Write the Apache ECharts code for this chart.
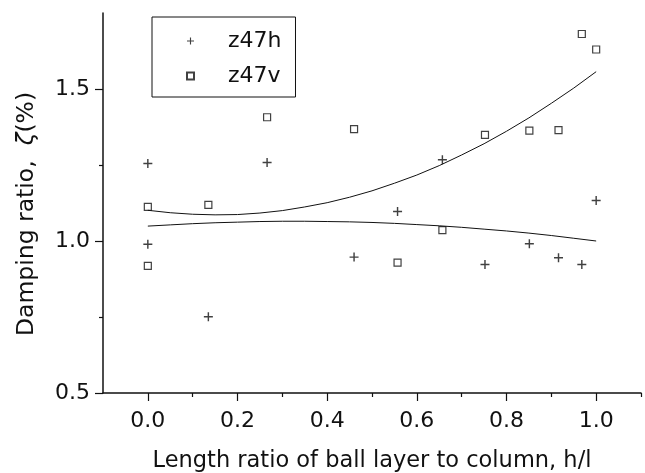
<!DOCTYPE html>
<html>
<head>
<meta charset="utf-8">
<script src="https://cdn.jsdelivr.net/npm/echarts@6/dist/echarts.min.js"></script>
<style>
  html, body { margin: 0; padding: 0; background: #fff; }
  #chart { width: 645px; height: 473px; }
</style>
</head>
<body>
<div id="chart"></div>
<script>
// h/l values of the measured points (x = 0 appears twice)
const ratioX = [0, 0, 0.135, 0.266, 0.46, 0.557, 0.657, 0.752, 0.851, 0.916, 0.968, 1.0]
const z47h = [1.255, 0.989, 0.751, 1.258, 0.947, 1.097, 1.267, 0.923, 0.991, 0.945, 0.923, 1.133]
const z47v = [1.112, 0.918, 1.119, 1.407, 1.368, 0.929, 1.036, 1.349, 1.363, 1.365, 1.681, 1.630]

// fitted curves
const fitX = [0, 0.05, 0.1, 0.15, 0.2, 0.25, 0.3, 0.35, 0.4, 0.45, 0.5,
  0.55, 0.6, 0.65, 0.7, 0.75, 0.8, 0.85, 0.9, 0.95, 1.0]
const fitH = [1.049, 1.053, 1.057, 1.060, 1.062, 1.064, 1.065, 1.065, 1.064, 1.063, 1.061,
  1.058, 1.054, 1.050, 1.045, 1.039, 1.033, 1.026, 1.018, 1.009, 1.000]
const fitV = [1.101, 1.093, 1.088, 1.086, 1.087, 1.092, 1.100, 1.112, 1.126, 1.144, 1.165,
  1.190, 1.217, 1.248, 1.283, 1.320, 1.361, 1.405, 1.453, 1.503, 1.557]

const xMajor = [0, 0.2, 0.4, 0.6, 0.8, 1.0]
const xMinor = [0.1, 0.3, 0.5, 0.7, 0.9, 1.1]
const yMajor = [0.5, 1.0, 1.5]
const yMinor = [0.75, 1.25]

const font = 'DejaVu Sans'
const ink = '#111'
const plus = 'path://M4.2,0H5.8V4.2H10V5.8H5.8V10H4.2V5.8H0V4.2H4.2Z'

function pairs(xs, ys) {
  return xs.map((x, i) => [x, ys[i]])
}

const chart = echarts.init(document.getElementById('chart'))

chart.setOption({
  animation: false,
  grid: { left: 103, top: 13, right: 4, bottom: 80, outerBoundsMode: 'none', containLabel: false },
  legend: {
    data: ['z47h', 'z47v'],
    orient: 'vertical',
    left: 152,
    top: 17,
    padding: [12, 14, 9, 34],
    itemWidth: 7,
    itemHeight: 7,
    itemGap: 11,
    borderColor: ink,
    borderWidth: 1,
    textStyle: { fontFamily: font, fontSize: 22, color: ink, lineHeight: 24, padding: [0, 0, 0, 29] }
  },
  xAxis: [
    {
      type: 'value',
      min: -0.1,
      max: 1.1,
      name: 'Length ratio of ball layer to column, h/l',
      nameLocation: 'middle',
      nameGap: 57,
      nameTextStyle: { fontFamily: font, fontSize: 22.5, color: ink },
      axisLine: { onZero: false, lineStyle: { color: ink, width: 1.5 } },
      axisTick: { customValues: xMajor, length: 8, lineStyle: { color: ink, width: 1.2 } },
      axisLabel: {
        customValues: xMajor,
        margin: 17,
        fontFamily: font,
        fontSize: 22,
        color: ink,
        formatter: v => v.toFixed(1)
      },
      splitLine: { show: false }
    },
    {
      type: 'value',
      min: -0.1,
      max: 1.1,
      position: 'bottom',
      axisLine: { show: false, onZero: false },
      axisTick: { customValues: xMinor, length: 4, lineStyle: { color: ink, width: 1.2 } },
      axisLabel: { show: false },
      splitLine: { show: false }
    }
  ],
  yAxis: [
    {
      type: 'value',
      min: 0.5,
      max: 1.75,
      name: 'Damping ratio,  {i|ζ}(%)',
      nameLocation: 'middle',
      nameGap: 64,
      nameRotate: 90,
      nameTextStyle: {
        fontFamily: font,
        fontSize: 23.5,
        color: ink,
        padding: [0, 22, 0, 0],
        rich: { i: { fontFamily: font, fontSize: 23.5, fontStyle: 'italic', color: ink } }
      },
      axisLine: { show: true, onZero: false, lineStyle: { color: ink, width: 1.5 } },
      axisTick: { show: true, customValues: yMajor, length: 8, lineStyle: { color: ink, width: 1.2 } },
      axisLabel: {
        customValues: yMajor,
        margin: 13,
        fontFamily: font,
        fontSize: 22,
        color: ink,
        formatter: v => v.toFixed(1)
      },
      splitLine: { show: false }
    },
    {
      type: 'value',
      min: 0.5,
      max: 1.75,
      position: 'left',
      offset: 0,
      axisLine: { show: false, onZero: false },
      axisTick: { show: true, customValues: yMinor, length: 4, lineStyle: { color: ink, width: 1.2 } },
      axisLabel: { show: false },
      splitLine: { show: false }
    }
  ],
  series: [
    {
      name: 'z47h',
      type: 'scatter',
      symbol: plus,
      symbolSize: 9,
      itemStyle: { color: ink },
      data: pairs(ratioX, z47h)
    },
    {
      name: 'z47v',
      type: 'scatter',
      symbol: 'rect',
      symbolSize: 7,
      itemStyle: { color: '#fff', borderColor: ink, borderWidth: 1.2 },
      data: pairs(ratioX, z47v)
    },
    {
      name: 'fit h',
      type: 'line',
      showSymbol: false,
      lineStyle: { color: ink, width: 1 },
      data: pairs(fitX, fitH)
    },
    {
      name: 'fit v',
      type: 'line',
      showSymbol: false,
      lineStyle: { color: ink, width: 1 },
      data: pairs(fitX, fitV)
    }
  ]
})
</script>
</body>
</html>
